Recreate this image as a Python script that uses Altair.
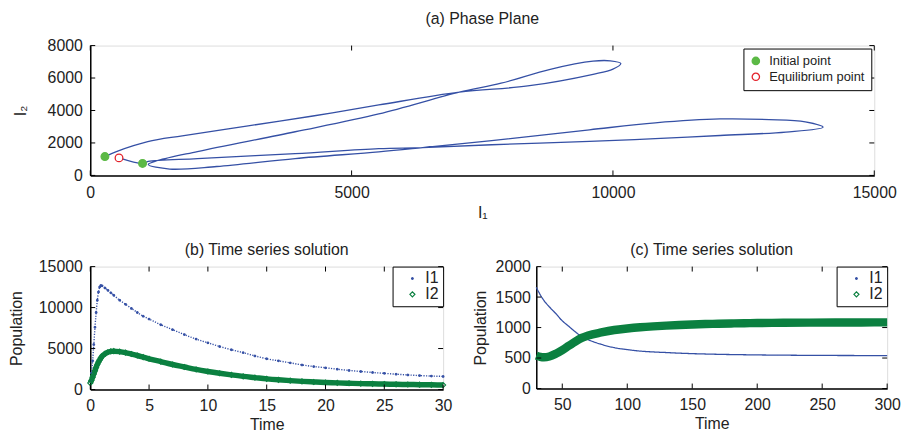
import altair as alt
import pandas as pd

BLUE = "#3550a5"
DKGREEN = "#0b8040"
LTGREEN = "#5cb946"
RED = "#e3222b"
FONT = "Liberation Sans"

# ---------------- (a) phase plane trajectory (I1, I2) ----------------
pp_I1 = [280, 500, 1100, 1760, 3020, 4260, 5520, 7060, 8370, 9620, 10000, 10150,
         9950, 9620, 8800, 7860, 7060, 5520, 3920, 2050, 1300, 1110, 1520, 2420,
         3920, 5520, 6360, 7680, 9550, 10810, 12050, 12990, 13680, 14020, 13310,
         12050, 10810, 9550, 7680, 6360, 5520, 3920, 2050, 1110, 1000, 550]
pp_I2 = [1160, 1470, 2080, 2440, 3050, 3660, 4340, 5130, 5510, 6230, 6550, 6900,
         7060, 7040, 6540, 5680, 5130, 3790, 2690, 1470, 920, 670, 390, 550,
         1040, 1450, 1710, 2140, 2810, 3240, 3480, 3440, 3300, 2970, 2670,
         2460, 2260, 2100, 1890, 1710, 1650, 1340, 1040, 860, 740, 1080]
mk_kind = ["Initial point", "Initial point", "Equilibrium point"]
mk_I1 = [280, 1000, 550]
mk_I2 = [1160, 740, 1080]
a_xticks = [0, 5000, 10000, 15000]
a_yticks = [0, 2000, 4000, 6000, 8000]

# ---------------- (b) time series 0..30 ----------------
b_t = [0, 0.1, 0.2, 0.3, 0.4, 0.5, 0.6, 0.7, 0.8, 0.9, 1.0, 1.25, 1.5, 1.75, 2, 2.5,
       3, 3.5, 4, 4.5, 5, 6, 7, 8, 9, 10, 11, 12, 13, 14, 15, 16, 17, 18, 19, 20,
       21, 22, 23, 24, 25, 26, 27, 28, 29, 30]
b_I1 = [1000, 2000, 3500, 5500, 7600, 9400, 10900, 11900, 12500, 12700, 12650, 12400,
        12100, 11800, 11500, 10900, 10400, 9900, 9400, 8950, 8600, 7900, 7300, 6700,
        6150, 5700, 5250, 4850, 4500, 4100, 3750, 3500, 3250, 3000, 2800, 2650, 2480,
        2330, 2200, 2080, 1970, 1870, 1780, 1700, 1640, 1600]
b_I2 = [800, 1100, 1500, 1900, 2300, 2700, 3050, 3350, 3600, 3850, 4050, 4350, 4550,
        4650, 4680, 4620, 4500, 4330, 4150, 3950, 3750, 3400, 3050, 2750, 2450, 2200,
        1980, 1780, 1600, 1450, 1300, 1180, 1080, 990, 920, 860, 810, 760, 720, 690,
        660, 630, 610, 590, 570, 550]
b_xticks = [0, 5, 10, 15, 20, 25, 30]
b_yticks = [0, 5000, 10000, 15000]

# ---------------- (c) time series 30..300 ----------------
c_t = [30, 33, 36, 40, 45, 50, 55, 60, 65, 70, 80, 90, 100, 110, 120, 130, 140, 150,
       160, 170, 180, 190, 200, 220, 240, 260, 280, 300]
c_I1 = [1660, 1540, 1440, 1340, 1230, 1110, 1020, 930, 850, 800, 725, 670, 638, 614,
        600, 590, 580, 572, 566, 561, 557, 554, 551, 547, 544, 542, 541, 540]
c_I2 = [540, 520, 512, 525, 570, 630, 700, 770, 830, 870, 920, 960, 985, 1005, 1020,
        1032, 1042, 1050, 1057, 1062, 1067, 1071, 1074, 1078, 1081, 1083, 1084, 1085]
c_xticks = [50, 100, 150, 200, 250, 300]
c_yticks = [0, 500, 1000, 1500, 2000]

series_names = ["I1", "I2"]


def axis(values, title, pad_title, lab_pad):
    return alt.Axis(values=values, title=title, grid=False, ticks=False,
                    labelFlush=False, labelFontSize=16, labelFont=FONT,
                    labelColor="#222", labelPadding=lab_pad, titleFont=FONT,
                    titleFontSize=16, titleFontWeight="normal", titleColor="#222",
                    titlePadding=pad_title, domainColor="black", domainWidth=1.5,
                    format="d")


def inward_ticks(xvals, yvals, xs, ys, xax, yax, W, H):
    tx = pd.DataFrame({"v": xvals})
    ty = pd.DataFrame({"v": yvals})
    L = 5
    return [
        alt.Chart(tx).mark_rule(color="black", strokeWidth=1).encode(
            x=alt.X("v:Q", scale=xs, axis=xax), y=alt.value(H), y2=alt.value(H - L)),
        alt.Chart(tx).mark_rule(color="black", strokeWidth=1).encode(
            x=alt.X("v:Q", scale=xs, axis=xax), y=alt.value(0), y2=alt.value(L)),
        alt.Chart(ty).mark_rule(color="black", strokeWidth=1).encode(
            y=alt.Y("v:Q", scale=ys, axis=yax), x=alt.value(0), x2=alt.value(L)),
        alt.Chart(ty).mark_rule(color="black", strokeWidth=1).encode(
            y=alt.Y("v:Q", scale=ys, axis=yax), x=alt.value(W), x2=alt.value(W - L)),
    ]


# ---------- (a) ----------
WA, HA = 791, 131
a_xs = alt.Scale(domain=[0, 15000], nice=False, zero=False)
a_ys = alt.Scale(domain=[0, 8000], nice=False, zero=False)
a_xax = axis(a_xticks, "I\u2081", 4, 9)
a_yax = axis(a_yticks, "I\u2082", 19, 8)
pp = pd.DataFrame({"step": list(range(len(pp_I1))), "I1": pp_I1, "I2": pp_I2})
mk = pd.DataFrame({"kind": mk_kind, "I1": mk_I1, "I2": mk_I2})
ax_x = alt.X("I1:Q", scale=a_xs, axis=a_xax)
ax_y = alt.Y("I2:Q", scale=a_ys, axis=a_yax)
a_line = alt.Chart(pp).mark_line(color=BLUE, strokeWidth=1.3, interpolate="catmull-rom").encode(
    x=ax_x, y=ax_y, order="step:Q")
leg_a = alt.Legend(title=None, orient="top-right", offset=3, padding=6,
                   strokeColor="black", fillColor="white", labelFontSize=13,
                   labelFont=FONT, labelColor="#222", symbolSize=55,
                   symbolStrokeWidth=1.3, rowPadding=2, labelOffset=7)
a_pts = alt.Chart(mk).mark_point(size=60, strokeWidth=1.3, opacity=1).encode(
    x=ax_x, y=ax_y,
    fill=alt.Fill("kind:N", scale=alt.Scale(domain=["Initial point", "Equilibrium point"],
                                            range=[LTGREEN, "white"]), legend=leg_a),
    stroke=alt.Stroke("kind:N", scale=alt.Scale(domain=["Initial point", "Equilibrium point"],
                                                range=[LTGREEN, RED]), legend=leg_a))
chart_a = alt.layer(a_line, a_pts, *inward_ticks(a_xticks, a_yticks, a_xs, a_ys, a_xax, a_yax, WA, HA)).properties(
    width=WA, height=HA,
    title=alt.TitleParams("(a) Phase Plane", fontSize=16, font=FONT, fontWeight="normal",
                          color="#222", frame="group", offset=11))


# ---------- time-series panels ----------
def ts_panel(t, i1, i2, xdom, ydom, xticks, yticks, W, H, title, dotted, i2w, ytp, ylp, pt_op):
    d1 = pd.DataFrame({"t": t, "v": i1, "s": series_names[0]})
    d2 = pd.DataFrame({"t": t, "v": i2, "s": series_names[1]})
    xs = alt.Scale(domain=xdom, nice=False, zero=False)
    ys = alt.Scale(domain=ydom, nice=False, zero=False)
    xax = axis(xticks, "Time", 3, 8)
    yax = axis(yticks, "Population", ytp, ylp)
    x = alt.X("t:Q", scale=xs, axis=xax)
    y = alt.Y("v:Q", scale=ys, axis=yax)
    l1 = alt.Chart(d1).mark_line(color=BLUE, strokeWidth=1.4 if dotted else 1.3,
                                 strokeDash=[1.2, 1.4] if dotted else [1, 0],
                                 interpolate="monotone").encode(x=x, y=y)
    l2 = alt.Chart(d2).mark_line(color=DKGREEN, strokeWidth=i2w,
                                 interpolate="monotone").encode(x=x, y=y)
    leg = alt.Legend(title=None, orient="top-right", offset=0, padding=4,
                     strokeColor="black", fillColor="white", labelFontSize=16,
                     labelFont=FONT, labelColor="#222", symbolOffset=8,
                     symbolStrokeWidth=1.2, symbolOpacity=1, rowPadding=-2, labelOffset=5)
    pts = alt.Chart(pd.concat([d1, d2])).mark_point(strokeWidth=1.1, opacity=pt_op).encode(
        x=x, y=y,
        fill=alt.Fill("s:N", scale=alt.Scale(domain=series_names, range=[BLUE, "transparent"]), legend=leg),
        stroke=alt.Stroke("s:N", scale=alt.Scale(domain=series_names, range=[BLUE, DKGREEN]), legend=leg),
        shape=alt.Shape("s:N", scale=alt.Scale(domain=series_names, range=["circle", "diamond"]), legend=leg),
        size=alt.Size("s:N", scale=alt.Scale(type="ordinal", domain=series_names, range=[3, 26]), legend=leg))
    return alt.layer(l1, l2, pts, *inward_ticks(xticks, yticks, xs, ys, xax, yax, W, H)).properties(
        width=W, height=H,
        title=alt.TitleParams(title, fontSize=16, font=FONT, fontWeight="normal",
                              color="#222", frame="group", offset=1))


chart_b = ts_panel(b_t, b_I1, b_I2, [0, 30], [0, 15000], b_xticks, b_yticks, 356, 124,
                   "(b) Time series solution", True, 5.5, 14, 8, 1)
chart_c = ts_panel(c_t, c_I1, c_I2, [30, 300], [0, 2000], c_xticks, c_yticks, 354, 123,
                   "(c) Time series solution", False, 8.5, 7, 6, 0)

ind = dict(x="independent", y="independent", fill="independent", stroke="independent",
           shape="independent", size="independent")
bottom = alt.hconcat(chart_b, chart_c, spacing=16).resolve_scale(**ind).resolve_legend(
    fill="independent", stroke="independent", shape="independent", size="independent")
chart = alt.vconcat(chart_a, bottom, spacing=20).resolve_scale(**ind).resolve_legend(
    fill="independent", stroke="independent", shape="independent", size="independent"
).properties(padding={"left": 0, "top": 0, "right": 0, "bottom": 0}
).configure_view(stroke="black", strokeWidth=1.5).configure(background="white")

chart.save("out.html", embed_options={"renderer": "svg", "actions": False})
